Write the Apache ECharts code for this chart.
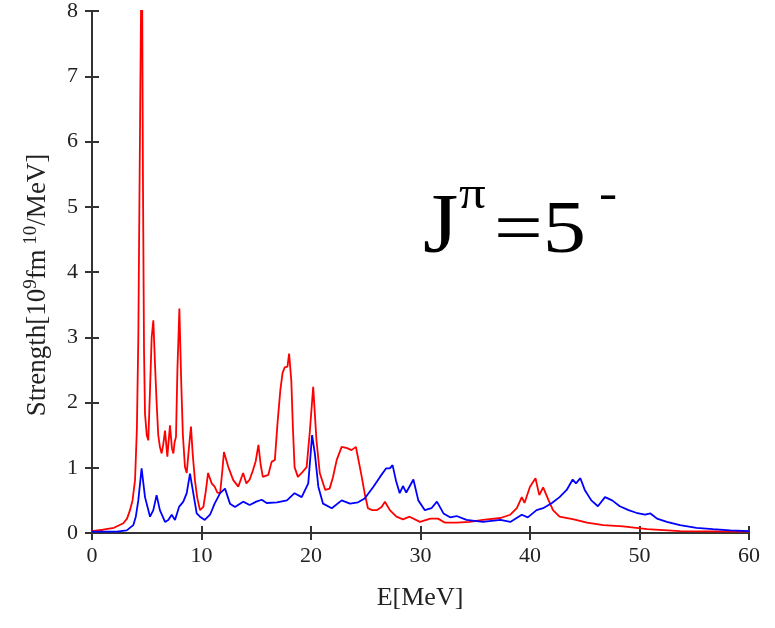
<!DOCTYPE html>
<html>
<head>
<meta charset="utf-8">
<script src="https://cdn.jsdelivr.net/npm/echarts@6/dist/echarts.min.js"></script>
<style>html,body{margin:0;padding:0;background:#fff}#c{width:775px;height:628px}</style>
</head>
<body>
<div id="c"></div>
<script>
var redE = [0,1,2,2.86,3.2,3.47,3.7,3.93,4.1,4.23,4.4,4.55,4.65,4.75,4.84,5.0,5.14,5.3,5.45,5.6,5.75,5.9,6.05,6.2,6.36,6.5,6.67,6.88,7.12,7.3,7.43,7.55,7.67,7.8,7.98,8.15,8.3,8.49,8.65,8.85,9.04,9.2,9.4,9.6,9.86,10.17,10.4,10.6,10.93,11.2,11.45,11.7,11.9,12.05,12.45,12.9,13.36,13.8,14.1,14.4,14.7,14.95,15.2,15.4,15.6,16.1,16.4,16.7,16.95,17.2,17.4,17.6,17.85,18.0,18.2,18.35,18.5,18.8,19.15,19.6,19.9,20.2,20.5,20.8,21.3,21.7,22.0,22.35,22.8,23.3,23.7,24.1,24.3,24.6,24.9,25.2,25.6,26.0,26.45,26.75,27.2,27.8,28.4,29.0,29.95,30.9,31.6,32.2,33.3,34.5,35.7,37.3,38.2,38.8,39.25,39.5,40.0,40.5,40.85,41.2,41.7,42.1,42.7,44.0,45.2,46.7,48.5,50.7,53.7,60];
var redS = [0.03,0.05,0.08,0.15,0.22,0.35,0.5,0.81,1.6,3.0,6.5,9.5,5.5,2.8,1.83,1.5,1.42,2.2,3.0,3.26,2.6,2.0,1.5,1.32,1.22,1.35,1.57,1.17,1.65,1.3,1.22,1.4,1.47,2.5,3.44,2.3,1.5,1.01,0.92,1.3,1.63,1.2,0.81,0.55,0.35,0.40,0.65,0.92,0.76,0.71,0.62,0.61,0.95,1.24,1.01,0.81,0.71,0.92,0.76,0.82,0.96,1.1,1.35,1.05,0.86,0.89,1.09,1.12,1.7,2.19,2.45,2.54,2.55,2.75,2.34,1.6,1.01,0.86,0.92,1.01,1.57,2.24,1.42,0.92,0.66,0.68,0.85,1.12,1.32,1.3,1.27,1.32,1.15,0.89,0.61,0.38,0.35,0.35,0.40,0.48,0.35,0.25,0.21,0.25,0.17,0.22,0.22,0.16,0.16,0.17,0.2,0.23,0.28,0.38,0.55,0.46,0.71,0.84,0.58,0.70,0.50,0.35,0.25,0.21,0.16,0.12,0.10,0.06,0.03,0.02];
var blueE = [0,2.25,3.17,3.77,4.0,4.23,4.53,4.84,5.3,5.6,5.9,6.2,6.67,6.97,7.28,7.58,7.95,8.34,8.65,8.95,9.25,9.56,9.86,10.3,10.78,11.2,11.7,12.15,12.6,13.06,13.8,14.4,15.0,15.5,15.95,16.9,17.8,18.5,19.15,19.75,20.1,20.35,20.67,21.1,21.9,22.8,23.56,24.3,24.9,25.7,26.3,26.85,27.2,27.45,27.75,28.1,28.4,28.7,29.35,29.8,30.4,31.0,31.5,32.1,32.7,33.3,34.2,35.7,37.3,38.2,39.25,39.8,40.6,41.2,42.0,42.7,43.35,43.9,44.2,44.6,45.0,45.6,46.2,46.85,47.5,48.2,49.0,49.7,50.5,51.0,51.6,52.5,53.7,55.2,56.7,58.3,60];
var blueS = [0.02,0.02,0.04,0.12,0.25,0.5,0.99,0.55,0.25,0.35,0.58,0.35,0.17,0.2,0.28,0.2,0.40,0.48,0.61,0.91,0.61,0.30,0.25,0.2,0.28,0.45,0.61,0.68,0.45,0.40,0.48,0.43,0.48,0.51,0.46,0.47,0.50,0.61,0.55,0.76,1.50,1.22,0.71,0.45,0.38,0.50,0.45,0.47,0.53,0.71,0.86,0.99,0.99,1.04,0.81,0.61,0.72,0.62,0.82,0.5,0.35,0.38,0.48,0.30,0.24,0.26,0.2,0.17,0.2,0.17,0.28,0.24,0.35,0.38,0.46,0.55,0.66,0.82,0.76,0.84,0.66,0.50,0.41,0.55,0.50,0.41,0.35,0.31,0.28,0.30,0.22,0.17,0.12,0.08,0.06,0.04,0.03];
var xTicks = [0,10,20,30,40,50,60];
var yTicks = [0,1,2,3,4,5,6,7,8];

function pairs(xs, ys){ return xs.map(function(x,i){ return [x, ys[i]]; }); }

var serif = '"Liberation Serif", "DejaVu Serif", serif';
var axisLine = {show:true, lineStyle:{color:'#333', width:2}};
var tick = {show:true, inside:true, length:7, lineStyle:{color:'#333', width:2}};

var chart = echarts.init(document.getElementById('c'), null, {renderer:'canvas'});
chart.setOption({
  animation:false,
  backgroundColor:'#fff',
  grid:{left:92, right:26, top:10, bottom:95},
  xAxis:[
    {type:'value', min:xTicks[0], max:xTicks[xTicks.length-1], interval:10, position:'bottom',
     axisLine:axisLine, axisTick:tick, splitLine:{show:false},
     axisLabel:{margin:12, fontFamily:serif, fontSize:22, color:'#222'}},
    {type:'value', min:0, max:60, interval:10, position:'top',
     axisLine:axisLine, axisTick:tick, splitLine:{show:false}, axisLabel:{show:false}}
  ],
  yAxis:[
    {type:'value', min:yTicks[0], max:yTicks[yTicks.length-1], interval:1, position:'left',
     axisLine:axisLine, axisTick:tick, splitLine:{show:false},
     axisLabel:{margin:14, fontFamily:serif, fontSize:22, color:'#222'}},
    {type:'value', min:0, max:8, interval:1, position:'right',
     axisLine:axisLine, axisTick:tick, splitLine:{show:false}, axisLabel:{show:false}}
  ],
  series:[
    {type:'line', data:pairs(redE, redS), showSymbol:false, clip:true, lineStyle:{color:'#ff0000', width:1.8}, itemStyle:{color:'#ff0000'}},
    {type:'line', data:pairs(blueE, blueS), showSymbol:false, clip:true, lineStyle:{color:'#0000ff', width:1.8}, itemStyle:{color:'#0000ff'}}
  ],
  graphic:[
    {type:'text', x:420, y:598, style:{text:'E[MeV]', font:'26px '+serif, fill:'#222', textAlign:'center', textVerticalAlign:'middle'}},
    {type:'text', x:38, y:285, rotation:Math.PI/2,
     style:{text:'{a|Strength[10}{s|9}{a|fm}{s| 10}{a|/MeV]}', textAlign:'center', textVerticalAlign:'middle', fill:'#222',
       rich:{a:{fontFamily:serif, fontSize:27, fill:'#222'}, s:{fontFamily:serif, fontSize:19, fill:'#222', padding:[0,0,14,0]}}}},
    {type:'text', x:423, y:230, scaleX:1.08, style:{text:'J', font:'84px '+serif, fill:'#000', textAlign:'left', textVerticalAlign:'middle'}},
    {type:'text', x:459, y:196, scaleX:1.15, style:{text:'π', font:'46px '+serif, fill:'#000', textAlign:'left', textVerticalAlign:'middle'}},
    {type:'text', x:494, y:233, scaleX:1.17, style:{text:'=5', font:'74px '+serif, fill:'#000', textAlign:'left', textVerticalAlign:'middle'}},
    {type:'text', x:599, y:196, scaleX:1.3, style:{text:'-', font:'bold 42px '+serif, fill:'#000', textAlign:'left', textVerticalAlign:'middle'}}
  ]
});
</script>
</body>
</html>
